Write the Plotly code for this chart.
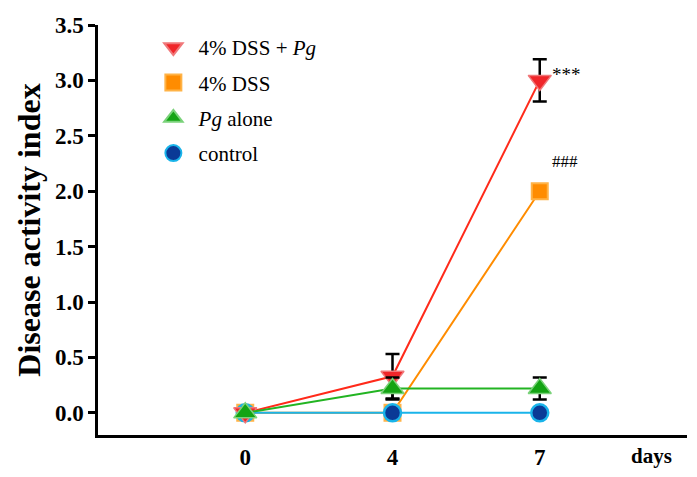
import plotly.graph_objects as go

days = ["0", "4", "7"]
dss_pg = [0.0, 0.33, 3.0]
dss_pg_err = [0.0, 0.2, 0.19]
dss = [0.0, 0.0, 2.0]
pg_alone = [0.0, 0.22, 0.22]
pg_alone_err = [0.0, 0.1, 0.1]
control = [0.0, 0.0, 0.0]

names = ["4% DSS + <i>Pg</i>", "4% DSS", "<i>Pg</i> alone", "control"]
FONT = "Liberation Serif"

xi = list(range(len(days)))

fig = go.Figure()

def err(vals):
    return dict(type="data", array=vals, color="black", thickness=2.5, width=7, visible=True)

# data traces (no legend)
fig.add_trace(go.Scatter(x=xi, y=dss, mode="lines+markers", showlegend=False,
    line=dict(color="#ff8c00", width=2),
    marker=dict(symbol="square", size=16, color="#ff8c00", line=dict(color="#ffb347", width=2))))
fig.add_trace(go.Scatter(x=xi, y=control, mode="lines+markers", showlegend=False,
    line=dict(color="#1ab4ea", width=2),
    marker=dict(symbol="circle", size=17, color="#0a3a96", line=dict(color="#1ab4ea", width=2.5))))
fig.add_trace(go.Scatter(x=xi, y=dss_pg, mode="lines+markers", showlegend=False,
    line=dict(color="#ff2a1a", width=2), error_y=err(dss_pg_err),
    marker=dict(symbol="triangle-down", size=20, color="#f0262a", line=dict(color="#f0787a", width=1.5))))
fig.add_trace(go.Scatter(x=xi, y=pg_alone, mode="lines+markers", showlegend=False,
    line=dict(color="#22b422", width=2), error_y=err(pg_alone_err),
    marker=dict(symbol="triangle-up", size=20, color="#13a413", line=dict(color="#7ad27a", width=1.5))))

# legend-only traces
leg = [
    ("triangle-down", 20, "#f0262a", "#f0787a"),
    ("square", 16, "#ff8c00", "#ffb347"),
    ("triangle-up", 20, "#13a413", "#7ad27a"),
    ("circle", 17, "#0a3a96", "#1ab4ea"),
]
for i, (sym, sz, c, lc) in enumerate(leg):
    fig.add_trace(go.Scatter(x=[None], y=[None], mode="markers", name="&nbsp;" + names[i],
        legendgroup=f"g{i}",
        marker=dict(symbol=sym, size=sz, color=c, line=dict(color=lc, width=2))))

fig.add_annotation(x=2, y=3.0, text="***", showarrow=False, xanchor="left", xshift=10, yshift=6,
                   font=dict(family=FONT, size=19, color="black"))
fig.add_annotation(x=2, y=2.0, text="###", showarrow=False, xanchor="left", xshift=10, yshift=30,
                   font=dict(family=FONT, size=17, color="black"))
fig.add_annotation(x=2.76, y=-0.05, xref="x", yref="paper", text="<b>days</b>", showarrow=False,
                   xanchor="center", yanchor="middle",
                   font=dict(family=FONT, size=21, color="black"))

# page body has an 8px margin, so the figure is sized to fit the window
fig.update_layout(
    width=689, height=469,
    margin=dict(l=90, r=10, t=17, b=42, autoexpand=False),
    paper_bgcolor="white", plot_bgcolor="white",
    font=dict(family=FONT, color="black"),
    legend=dict(x=0.094, y=0.995, xanchor="left", yanchor="top",
                font=dict(family=FONT, size=21, color="black"),
                tracegroupgap=5, bgcolor="rgba(0,0,0,0)"),
    xaxis=dict(range=[-1, 3.0], tickvals=xi, ticktext=[f"<b>{d}</b>" for d in days],
               showgrid=False, zeroline=False, showline=True, linecolor="black", linewidth=2.5,
               ticks="", tickfont=dict(family=FONT, size=23, color="black"), automargin=False),
    yaxis=dict(range=[-0.2, 3.5], tickvals=[0, 0.5, 1, 1.5, 2, 2.5, 3, 3.5],
               ticktext=["<b>%.1f</b>" % v for v in [0, 0.5, 1, 1.5, 2, 2.5, 3, 3.5]],
               showgrid=False, zeroline=False, showline=True, linecolor="black", linewidth=2.5,
               ticks="outside", ticklen=7, tickwidth=2.5, tickcolor="black", automargin=False,
               tickfont=dict(family=FONT, size=23, color="black"),
               title=dict(text="<b>Disease activity index</b>", font=dict(family=FONT, size=32, color="black"),
                          standoff=5)),
)

fig.write_html("out.html")
